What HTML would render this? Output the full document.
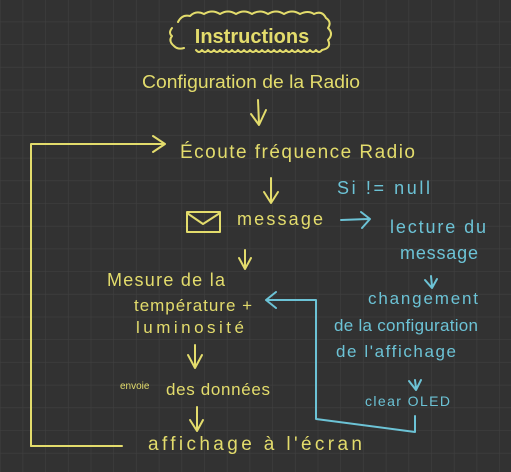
<!DOCTYPE html>
<html><head><meta charset="utf-8"><style>
html,body{margin:0;padding:0;background:#323232;}
svg{display:block}
text{font-family:"Liberation Sans",sans-serif;}
.y{fill:#e3dc6c}
.c{fill:#6cc3d6}
</style></head><body>
<svg width="511" height="472" viewBox="0 0 511 472" xmlns="http://www.w3.org/2000/svg">
<defs>
<pattern id="g" x="0.5" y="-0.5" width="22.7" height="22.7" patternUnits="userSpaceOnUse">
<path d="M22.7 0V22.7M0 22.7H22.7" stroke="#404040" stroke-width="1.2" fill="none"/>
</pattern>
</defs>
<rect width="511" height="472" fill="#323232"/>
<rect width="511" height="472" fill="url(#g)"/>
<g fill="none" stroke="#e3dc6c" stroke-width="2" stroke-linecap="round" stroke-linejoin="round">
<!-- cloud -->
<path d="M178 22 q4-8 12-6 q6-6 14-2 q8-5 16 0 q8-5 16 0 q8-5 16 0 q8-5 16 0 q8-5 16 0 q8-5 16 0 q8-4 14 0 q8-4 12 4 q6 4 2 10 q6 6 0 12 q4 8-6 10 M172 28 q-4 5 0 8 q-4 5 2 10 q4 4 10 2"/>
<path d="M196 50 q3 4 6 0 q3 4 6 0 q3 4 6 0 q3 4 6 0 q3 4 6 0 q3 4 6 0 q3 4 6 0 q3 4 6 0 q3 4 6 0 q3 4 6 0 q3 4 6 0 q3 4 6 0 q3 4 6 0 q3 4 6 0 q3 4 6 0 q3 4 6 0 q3 4 6 0 q3 4 6 0 q3 4 6 0 q3 4 6 0 q3 4 6 0"/>
<!-- arrows -->
<path d="M258 100 L259 124 M251 114 L259 125 L266 110"/>
<path d="M31 446 L31 144 L163 144 M153 136 L165 144 L153 152"/>
<path d="M31 446 L122 446"/>
<path d="M271 178 L271 202 M264 192 L271 203 L278 192"/>
<path d="M245 250 L245 268 M239 258 L245 269 L251 258"/>
<path d="M195 345 L195 367 M188 355 L195 368 L202 355"/>
<path d="M197 407 L197 430 M190 420 L197 431 L203 420"/>
<!-- envelope -->
<rect x="187" y="212" width="33" height="20"/>
<path d="M187 213 L203 224 L220 213"/>
</g>
<g fill="none" stroke="#6cc3d6" stroke-width="2" stroke-linecap="round" stroke-linejoin="round">
<path d="M341 220 L368 219 M361 212 L370 219 L362 228"/>
<path d="M431 276 L432 286 M425 280 L432 288 L437 279"/>
<path d="M415 380 L416 388 M409 381 L416 390 L421 380"/>
<path d="M415 416 L415 432 L316 419 L316 300 L268 300 M276 292 L266 300 L276 308"/>
</g>
<g>
<text x="252" y="43" text-anchor="middle" class="y" font-size="20" font-weight="bold" font-family="Liberation Mono,monospace">Instructions</text>
<text x="142" y="88" class="y" font-size="18" textLength="218" lengthAdjust="spacingAndGlyphs">Configuration de la Radio</text>
<text x="180" y="158" class="y" font-size="19" textLength="235" lengthAdjust="spacing">Écoute fréquence Radio</text>
<text x="237" y="225" class="y" font-size="18" textLength="86" lengthAdjust="spacing">message</text>
<text x="107" y="286" class="y" font-size="18" textLength="118" lengthAdjust="spacing">Mesure de la</text>
<text x="134" y="311" class="y" font-size="17" textLength="118" lengthAdjust="spacing">température +</text>
<text x="136" y="333" class="y" font-size="17" textLength="108" lengthAdjust="spacing">luminosité</text>
<text x="120" y="389" class="y" font-size="10">envoie</text>
<text x="166" y="395" class="y" font-size="17" textLength="104" lengthAdjust="spacing">des données</text>
<text x="148" y="450" class="y" font-size="19" textLength="214" lengthAdjust="spacing">affichage à l'écran</text>
<text x="337" y="194" class="c" font-size="18" textLength="93" lengthAdjust="spacing">Si  != null</text>
<text x="390" y="233" class="c" font-size="18" textLength="96" lengthAdjust="spacing">lecture du</text>
<text x="400" y="259" class="c" font-size="18" textLength="78" lengthAdjust="spacing">message</text>
<text x="368" y="304" class="c" font-size="17" textLength="110" lengthAdjust="spacing">changement</text>
<text x="334" y="331" class="c" font-size="17" textLength="144" lengthAdjust="spacing">de la configuration</text>
<text x="336" y="357" class="c" font-size="17" textLength="120" lengthAdjust="spacing">de l'affichage</text>
<text x="365" y="406" class="c" font-size="14" textLength="85" lengthAdjust="spacing">clear OLED</text>
</g>
</svg>
</body></html>
